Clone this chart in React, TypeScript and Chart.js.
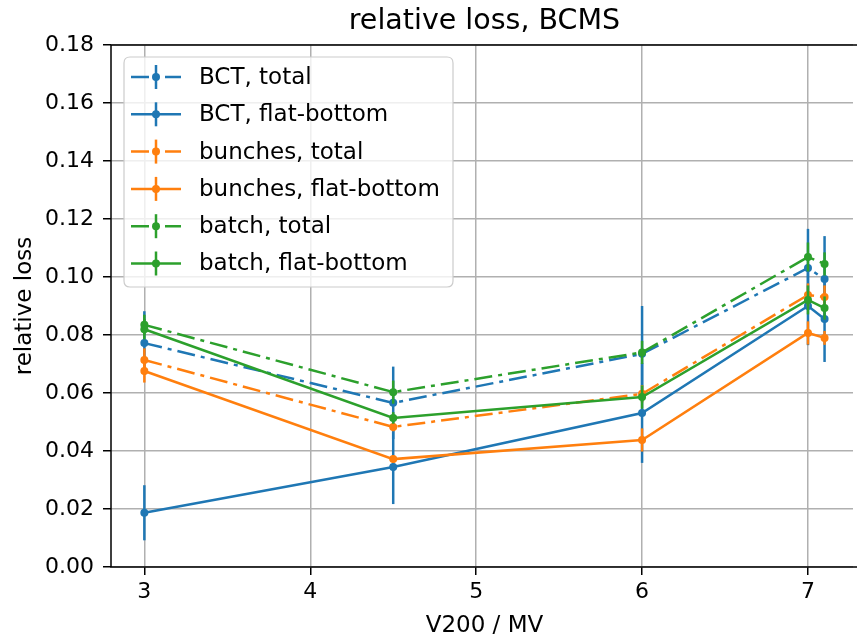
import React, { useEffect, useRef } from "react";
import { Chart, registerables } from "chart.js";

Chart.register(...registerables);

const xValues = [3, 4.5, 6, 7, 7.1];
const xTicks = [3, 4, 5, 6, 7];
const yTicks = [0, 0.02, 0.04, 0.06, 0.08, 0.1, 0.12, 0.14, 0.16, 0.18];

const seriesLabels = [
  "BCT, total",
  "BCT, flat-bottom",
  "bunches, total",
  "bunches, flat-bottom",
  "batch, total",
  "batch, flat-bottom",
];

const bctTotal = [0.0772, 0.0566, 0.0735, 0.1031, 0.0993];
const bctTotalErr = [0.011, 0.0125, 0.0165, 0.0135, 0.0148];
const bctFlat = [0.0187, 0.0345, 0.0531, 0.09, 0.0855];
const bctFlatErr = [0.0095, 0.0128, 0.0172, 0.0135, 0.0148];
const bunchesTotal = [0.0714, 0.0483, 0.0597, 0.0938, 0.0931];
const bunchesTotalErr = [0.004, 0.0015, 0.003, 0.004, 0.004];
const bunchesFlat = [0.0676, 0.0372, 0.0438, 0.0807, 0.079];
const bunchesFlatErr = [0.004, 0.0012, 0.004, 0.004, 0.0024];
const batchTotal = [0.0835, 0.0603, 0.074, 0.1069, 0.1045];
const batchTotalErr = [0.0035, 0.004, 0.004, 0.005, 0.004];
const batchFlat = [0.082, 0.0514, 0.0586, 0.0921, 0.0893];
const batchFlatErr = [0.0035, 0.002, 0.004, 0.005, 0.004];

const seriesValues = [bctTotal, bctFlat, bunchesTotal, bunchesFlat, batchTotal, batchFlat];
const seriesErrors = [bctTotalErr, bctFlatErr, bunchesTotalErr, bunchesFlatErr, batchTotalErr, batchFlatErr];
const seriesColors = ["#1f77b4", "#1f77b4", "#ff7f0e", "#ff7f0e", "#2ca02c", "#2ca02c"];
const seriesDashed = [true, false, true, false, true, false];

const FONT = "'DejaVu Sans', sans-serif";
const DASH = [18, 6, 4, 6];
const LW = 2.5;

const errorBarPlugin = {
  id: "errorBars",
  beforeDatasetDraw(chart: any, args: any) {
    const i = args.index;
    const ctx = chart.ctx;
    const xs = chart.scales.x;
    const ys = chart.scales.y;
    const ca = chart.chartArea;
    ctx.save();
    ctx.beginPath();
    ctx.rect(ca.left, ca.top, ca.right - ca.left, ca.bottom - ca.top);
    ctx.clip();
    ctx.strokeStyle = seriesColors[i];
    ctx.lineWidth = LW;
    ctx.setLineDash([]);
    seriesValues[i].forEach((v, j) => {
      const e = seriesErrors[i][j];
      const px = xs.getPixelForValue(xValues[j]);
      ctx.beginPath();
      ctx.moveTo(px, ys.getPixelForValue(v - e));
      ctx.lineTo(px, ys.getPixelForValue(v + e));
      ctx.stroke();
    });
    ctx.restore();
  },
};

const decorPlugin = {
  id: "decor",
  afterDatasetsDraw(chart: any) {
    const ctx = chart.ctx;
    const ca = chart.chartArea;
    const xs = chart.scales.x;
    ctx.save();
    // spines
    ctx.strokeStyle = "#000";
    ctx.lineWidth = 1.5;
    ctx.setLineDash([]);
    ctx.beginPath();
    ctx.moveTo(ca.left, ca.top);
    ctx.lineTo(ca.right + 5, ca.top);
    ctx.moveTo(ca.left, ca.top);
    ctx.lineTo(ca.left, ca.bottom);
    ctx.lineTo(ca.right + 5, ca.bottom);
    ctx.stroke();

    // legend
    const bx = 124, by = 57, bw = 329, bh = 230, r = 6;
    ctx.beginPath();
    ctx.moveTo(bx + r, by);
    ctx.lineTo(bx + bw - r, by);
    ctx.quadraticCurveTo(bx + bw, by, bx + bw, by + r);
    ctx.lineTo(bx + bw, by + bh - r);
    ctx.quadraticCurveTo(bx + bw, by + bh, bx + bw - r, by + bh);
    ctx.lineTo(bx + r, by + bh);
    ctx.quadraticCurveTo(bx, by + bh, bx, by + bh - r);
    ctx.lineTo(bx, by + r);
    ctx.quadraticCurveTo(bx, by, bx + r, by);
    ctx.closePath();
    ctx.fillStyle = "rgba(255,255,255,0.8)";
    ctx.fill();
    ctx.strokeStyle = "#cccccc";
    ctx.lineWidth = 1.2;
    ctx.stroke();

    seriesLabels.forEach((label, i) => {
      const cy = 77 + i * 37.3;
      const c = seriesColors[i];
      ctx.strokeStyle = c;
      ctx.fillStyle = c;
      ctx.lineWidth = LW;
      ctx.setLineDash(seriesDashed[i] ? DASH : []);
      ctx.beginPath();
      ctx.moveTo(131, cy);
      ctx.lineTo(181, cy);
      ctx.stroke();
      ctx.setLineDash([]);
      ctx.beginPath();
      ctx.moveTo(156, cy - 12);
      ctx.lineTo(156, cy + 12);
      ctx.stroke();
      ctx.beginPath();
      ctx.arc(156, cy, 4, 0, Math.PI * 2);
      ctx.fill();
      ctx.fillStyle = "#000";
      ctx.font = `23px ${FONT}`;
      ctx.textAlign = "left";
      ctx.textBaseline = "middle";
      ctx.fillText(label, 199, cy + 1);
    });

    // titles
    const cx = xs.getPixelForValue(5.05);
    ctx.fillStyle = "#000";
    ctx.textAlign = "center";
    ctx.textBaseline = "middle";
    ctx.font = `28.5px ${FONT}`;
    ctx.fillText("relative loss, BCMS", cx, 22);
    ctx.font = `23px ${FONT}`;
    ctx.fillText("V200 / MV", cx, 626);
    ctx.translate(25, (ca.top + ca.bottom) / 2);
    ctx.rotate(-Math.PI / 2);
    ctx.fillText("relative loss", 0, 0);
    ctx.restore();
  },
};

export default function App() {
  const ref = useRef<HTMLCanvasElement | null>(null);
  useEffect(() => {
    if (!ref.current) return;
    const datasets = seriesLabels.map((label, i) => ({
      label,
      data: xValues.map((x, j) => ({ x, y: seriesValues[i][j] })),
      borderColor: seriesColors[i],
      backgroundColor: seriesColors[i],
      borderWidth: LW,
      borderDash: seriesDashed[i] ? DASH : [],
      pointRadius: 4,
      pointBorderWidth: 0,
      pointBackgroundColor: seriesColors[i],
      fill: false,
      tension: 0,
      order: seriesLabels.length - 1 - i,
    }));
    const chart = new Chart(ref.current, {
      type: "line",
      data: { datasets },
      plugins: [errorBarPlugin, decorPlugin],
      options: {
        responsive: false,
        animation: false,
        layout: { padding: { top: 45, left: 0, right: 0, bottom: 0 } },
        plugins: { legend: { display: false }, title: { display: false }, tooltip: { enabled: false } },
        scales: {
          x: {
            type: "linear",
            min: 2.799,
            max: 7.2714,
            afterBuildTicks: (s: any) => {
              s.ticks = xTicks.map((v) => ({ value: v }));
            },
            afterFit: (s: any) => {
              s.height = 71;
            },
            ticks: {
              font: { family: FONT, size: 22 },
              color: "#000",
              padding: 4,
              maxRotation: 0,
              autoSkip: false,
              callback: (v: any) => String(v),
            },
            grid: { color: "#b0b0b0", lineWidth: 1.5, tickColor: "#000", tickLength: 8, tickWidth: 1.5 },
            border: { display: false },
          },
          y: {
            type: "linear",
            min: 0,
            max: 0.18,
            afterBuildTicks: (s: any) => {
              s.ticks = yTicks.map((v) => ({ value: v }));
            },
            afterFit: (s: any) => {
              s.width = 111;
            },
            ticks: {
              font: { family: FONT, size: 22 },
              color: "#000",
              padding: 9,
              autoSkip: false,
              callback: (v: any) => Number(v).toFixed(2),
            },
            grid: { color: "#b0b0b0", lineWidth: 1.5, tickColor: "#000", tickLength: 8, tickWidth: 1.5 },
            border: { display: false },
          },
        },
      },
    } as any);
    return () => chart.destroy();
  }, []);
  return (
    <div style={{ position: "fixed", left: 0, top: 0, width: 857, height: 638, background: "#fff" }}>
      <canvas ref={ref} width={857} height={638} style={{ display: "block" }} />
    </div>
  );
}
